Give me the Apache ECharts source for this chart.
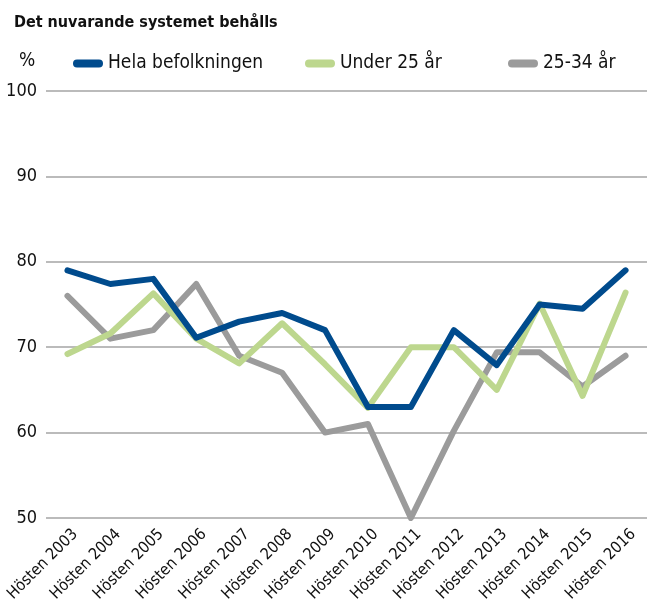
<!DOCTYPE html>
<html>
<head>
<meta charset="utf-8">
<script src="https://cdn.jsdelivr.net/npm/echarts@6/dist/echarts.min.js"></script>
<style>
  html, body { margin: 0; padding: 0; background: #fff; }
  #chart { width: 647px; height: 604px; }
</style>
</head>
<body>
<div id="chart"></div>
<script>
// data
const categories = ['Hösten 2003', 'Hösten 2004', 'Hösten 2005', 'Hösten 2006', 'Hösten 2007',
    'Hösten 2008', 'Hösten 2009', 'Hösten 2010', 'Hösten 2011', 'Hösten 2012',
    'Hösten 2013', 'Hösten 2014', 'Hösten 2015', 'Hösten 2016']
const helaBefolkningen = [79.0, 77.4, 78.0, 71.1, 73.0, 74.0, 72.0, 63.0, 63.0, 72.0, 67.9, 75.0, 74.5, 79.0]
const under25 = [69.2, 71.6, 76.3, 71.0, 68.1, 72.8, 68.0, 62.9, 70.0, 70.0, 65.0, 75.1, 64.3, 76.4]
const ages25to34 = [76.0, 71.0, 72.0, 77.4, 69.0, 67.0, 60.0, 61.0, 50.0, 60.2, 69.4, 69.4, 65.4, 69.0]
const seriesNames = ['Hela befolkningen', 'Under 25 år', '25-34 år']
const colors = ['#004b8d', '#bdd78e', '#9b9b9b']

const font = '"Liberation Sans Narrow", "DejaVu Sans Condensed", sans-serif'
const pill = 'path://M4,0 H26 A4,4 0 0 1 26,8 H4 A4,4 0 0 1 4,0 Z'

const legendBase = {
    top: 49,
    icon: pill,
    itemWidth: 30,
    itemHeight: 8,
    itemGap: 10,
    selectedMode: false,
    textStyle: { fontFamily: font, fontSize: 19, color: '#111' },
}

const chart = echarts.init(document.getElementById('chart'), null, { renderer: 'canvas' })

chart.setOption({
    animation: false,
    color: colors,
    title: {
        text: 'Det nuvarande systemet behålls',
        left: 9,
        top: 10,
        textStyle: { fontFamily: font, fontSize: 16, fontWeight: 'bold', color: '#111' },
    },
    legend: [
        { ...legendBase, left: 68, data: [seriesNames[0]] },
        { ...legendBase, left: 300, data: [seriesNames[1]] },
        { ...legendBase, left: 503, data: [seriesNames[2]] },
    ],
    graphic: [{
        type: 'text',
        left: 19,
        top: 52,
        style: { text: '%', fontFamily: font, fontSize: 19, fill: '#111' },
    }],
    grid: { left: 46, right: 0, top: 91, bottom: 86, outerBoundsMode: 'none' },
    xAxis: {
        type: 'category',
        data: categories,
        boundaryGap: true,
        axisLine: { show: false },
        axisTick: { show: false },
        axisLabel: {
            rotate: 45,
            margin: 6,
            interval: 0,
            verticalAlign: 'top',
            lineHeight: 22,
            fontFamily: font,
            fontSize: 16,
            color: '#111',
        },
    },
    yAxis: {
        type: 'value',
        min: 50,
        max: 100,
        interval: 10,
        axisLine: { show: false },
        axisTick: { show: false },
        axisLabel: { margin: 9, fontFamily: font, fontSize: 18, color: '#111' },
        splitLine: { lineStyle: { color: '#bbbbbb', width: 2 } },
    },
    series: [helaBefolkningen, under25, ages25to34].map((values, i) => ({
        name: seriesNames[i],
        type: 'line',
        data: values,
        showSymbol: false,
        lineStyle: { width: 6, cap: 'round', join: 'round' },
        z: 3 - i,
    })),
})
</script>
</body>
</html>
